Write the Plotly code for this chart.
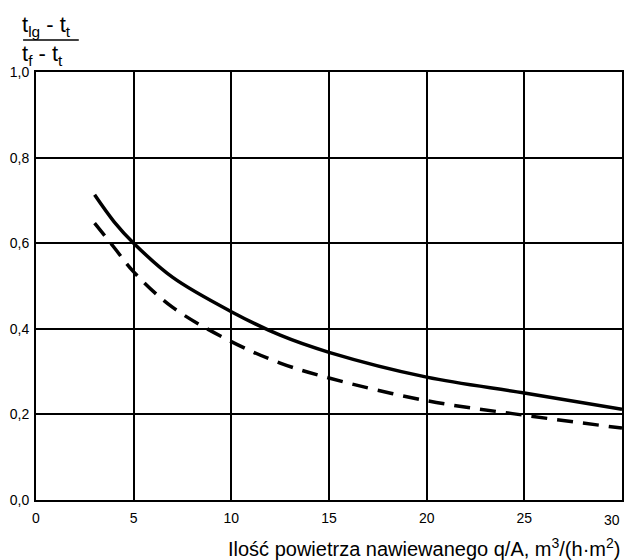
import plotly.graph_objects as go

x_solid = [3, 4, 5, 7, 10, 12.5, 15, 20, 25, 30]
y_solid = [0.713, 0.65, 0.60, 0.52, 0.44, 0.385, 0.345, 0.287, 0.25, 0.212]
x_dash = [3, 4, 5, 7, 10, 12.5, 15, 20, 25, 30]
y_dash = [0.647, 0.59, 0.533, 0.45, 0.37, 0.32, 0.285, 0.232, 0.198, 0.168]

x_ticks = [0, 5, 10, 15, 20, 25]
x_last_tick = 30
y_ticks = [0.0, 0.2, 0.4, 0.6, 0.8, 1.0]
y_tick_text = ["0,0", "0,2", "0,4", "0,6", "0,8", "1,0"]

FONT = "Liberation Sans, Arial"

fig = go.Figure()
fig.add_trace(go.Scatter(x=x_solid, y=y_solid, mode="lines",
                         line=dict(color="black", width=3.5, shape="spline"),
                         showlegend=False))
fig.add_trace(go.Scatter(x=x_dash, y=y_dash, mode="lines",
                         line=dict(color="black", width=3.5, dash="16px,10px", shape="spline"),
                         showlegend=False))

axis_font = dict(family=FONT, size=14, color="black")
fig.update_xaxes(range=[0, 30], tickvals=x_ticks + [x_last_tick],
                 ticktext=[str(v) for v in x_ticks] + [""],
                 showgrid=True, gridcolor="black", gridwidth=1.5,
                 showline=True, linecolor="black", linewidth=2, mirror=True,
                 zeroline=False, ticks="", tickfont=axis_font, ticklabelstandoff=4)
fig.update_yaxes(range=[0, 1.0], tickvals=y_ticks, ticktext=y_tick_text,
                 showgrid=True, gridcolor="black", gridwidth=1.5,
                 showline=True, linecolor="black", linewidth=2, mirror=True,
                 zeroline=False, ticks="", tickfont=axis_font, ticklabelstandoff=2)

# last x tick label, right-aligned to the plot edge as in the reference
fig.add_annotation(text=str(x_last_tick), xref="x", yref="paper", x=x_last_tick, y=0,
                   xanchor="right", yanchor="top", yshift=-10, showarrow=False,
                   font=axis_font)

fig.add_annotation(text="Ilość powietrza nawiewanego q/A, m<sup>3</sup>/(h·m<sup>2</sup>)",
                   xref="paper", yref="paper", x=1.0, y=-0.077, xanchor="right", yanchor="top",
                   showarrow=False, font=dict(family=FONT, size=20, color="black"))
fig.add_annotation(text="t<sub>lg</sub> - t<sub>t</sub>", xref="paper", yref="paper",
                   x=-0.027, y=1.108, xanchor="left", yanchor="middle",
                   showarrow=False, font=dict(family=FONT, size=22, color="black"))
fig.add_annotation(text="t<sub>f</sub> - t<sub>t</sub>", xref="paper", yref="paper",
                   x=-0.027, y=1.04, xanchor="left", yanchor="middle",
                   showarrow=False, font=dict(family=FONT, size=22, color="black"))
fig.add_shape(type="line", xref="paper", yref="paper", x0=-0.022, x1=0.073, y0=1.0748, y1=1.0748,
              line=dict(color="black", width=1.5))

fig.update_layout(width=630, height=560, margin=dict(l=36, r=6, t=72, b=60),
                  plot_bgcolor="white", paper_bgcolor="white")
fig.write_html("out.html", config={"displayModeBar": False},
               post_script="document.body.style.margin='0';")
